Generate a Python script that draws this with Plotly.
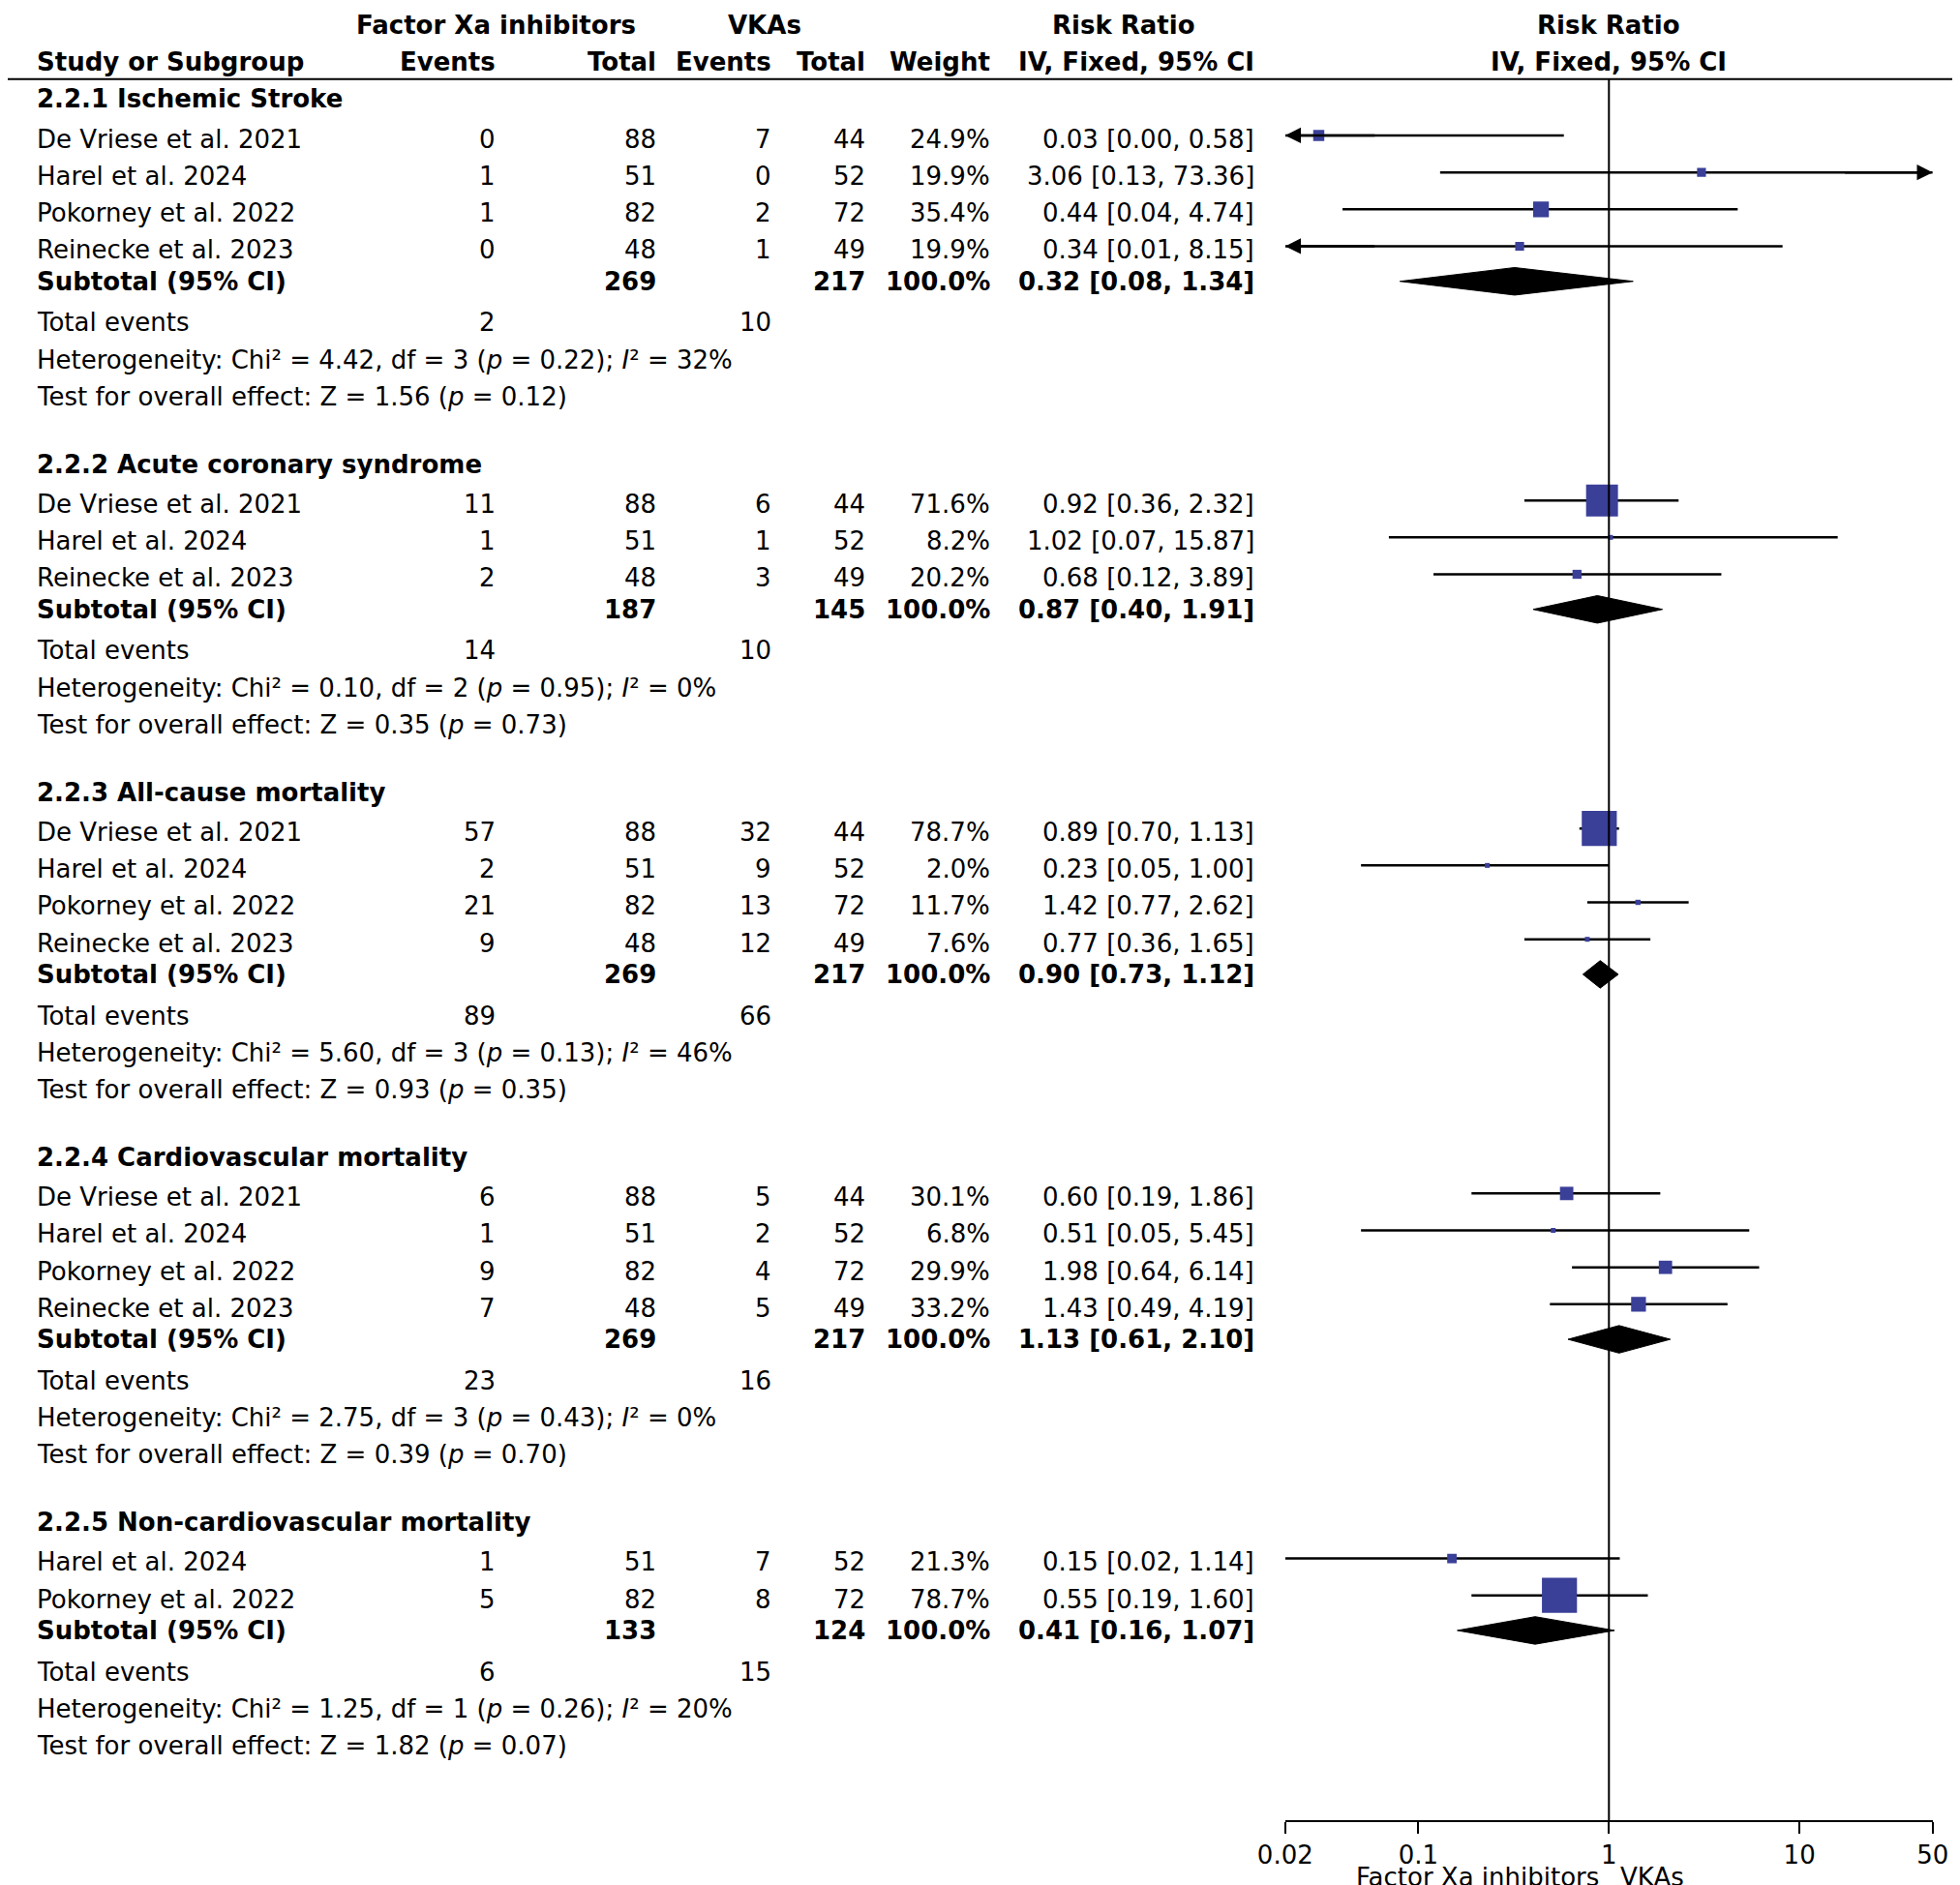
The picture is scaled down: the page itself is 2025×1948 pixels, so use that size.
import math
import plotly.graph_objects as go

# ---------------- data ----------------
sec_titles = ["2.2.1 Ischemic Stroke", "2.2.2 Acute coronary syndrome", "2.2.3 All-cause mortality",
              "2.2.4 Cardiovascular mortality", "2.2.5 Non-cardiovascular mortality"]
studies = [
    [("De Vriese et al. 2021", 0, 88, 7, 44, 24.9, 0.03, 0.00, 0.58),
     ("Harel et al. 2024", 1, 51, 0, 52, 19.9, 3.06, 0.13, 73.36),
     ("Pokorney et al. 2022", 1, 82, 2, 72, 35.4, 0.44, 0.04, 4.74),
     ("Reinecke et al. 2023", 0, 48, 1, 49, 19.9, 0.34, 0.01, 8.15)],
    [("De Vriese et al. 2021", 11, 88, 6, 44, 71.6, 0.92, 0.36, 2.32),
     ("Harel et al. 2024", 1, 51, 1, 52, 8.2, 1.02, 0.07, 15.87),
     ("Reinecke et al. 2023", 2, 48, 3, 49, 20.2, 0.68, 0.12, 3.89)],
    [("De Vriese et al. 2021", 57, 88, 32, 44, 78.7, 0.89, 0.70, 1.13),
     ("Harel et al. 2024", 2, 51, 9, 52, 2.0, 0.23, 0.05, 1.00),
     ("Pokorney et al. 2022", 21, 82, 13, 72, 11.7, 1.42, 0.77, 2.62),
     ("Reinecke et al. 2023", 9, 48, 12, 49, 7.6, 0.77, 0.36, 1.65)],
    [("De Vriese et al. 2021", 6, 88, 5, 44, 30.1, 0.60, 0.19, 1.86),
     ("Harel et al. 2024", 1, 51, 2, 52, 6.8, 0.51, 0.05, 5.45),
     ("Pokorney et al. 2022", 9, 82, 4, 72, 29.9, 1.98, 0.64, 6.14),
     ("Reinecke et al. 2023", 7, 48, 5, 49, 33.2, 1.43, 0.49, 4.19)],
    [("Harel et al. 2024", 1, 51, 7, 52, 21.3, 0.15, 0.02, 1.14),
     ("Pokorney et al. 2022", 5, 82, 8, 72, 78.7, 0.55, 0.19, 1.60)],
]
subtotals = [(269, 217, 0.32, 0.08, 1.34), (187, 145, 0.87, 0.40, 1.91), (269, 217, 0.90, 0.73, 1.12),
             (269, 217, 1.13, 0.61, 2.10), (133, 124, 0.41, 0.16, 1.07)]
total_events = [(2, 10), (14, 10), (89, 66), (23, 16), (6, 15)]
het = [("4.42", "3", "0.22", "32%"), ("0.10", "2", "0.95", "0%"), ("5.60", "3", "0.13", "46%"),
       ("2.75", "3", "0.43", "0%"), ("1.25", "1", "0.26", "20%")]
tests = [("1.56", "0.12"), ("0.35", "0.73"), ("0.93", "0.35"), ("0.39", "0.70"), ("1.82", "0.07")]
tick_vals = [0.02, 0.1, 1, 10, 50]
tick_text = ["0.02", "0.1", "1", "10", "50"]
XMIN, XMAX = 0.02, 50

# ---------------- layout helpers ----------------
W, H = 2025, 1948
DW = 1565.0
DH = H * DW / W
FS = 26
FONT = "DejaVu Sans"
BLUE = "#3A3F98"

fig = go.Figure()
ann = []

def txt(x, y, s, anchor="left", bold=False):
    if bold:
        s = "<b>" + s + "</b>"
    ann.append(dict(x=x / DW, y=y, xref="paper", yref="y", text=s, showarrow=False,
                    xanchor=anchor, yanchor="middle", font=dict(size=FS, color="black", family=FONT)))

cols = [391, 519, 611, 686, 786, 997]

# headers
txt(390, 14, "Factor Xa inhibitors", "center", True)
txt(604, 14, "VKAs", "center", True)
txt(891, 14, "Risk Ratio", "center", True)
txt(1278, 14, "Risk Ratio", "center", True)
txt(22, 43, "Study or Subgroup", "left", True)
txt(391, 43, "Events", "right", True)
txt(519, 43, "Total", "right", True)
txt(611, 43, "Events", "right", True)
txt(686, 43, "Total", "right", True)
txt(786, 43, "Weight", "right", True)
txt(997, 43, "IV, Fixed, 95% CI", "right", True)
txt(1278, 43, "IV, Fixed, 95% CI", "center", True)

shapes = [dict(type="line", xref="paper", yref="y", x0=0, x1=1, y0=57, y1=57, line=dict(color="black", width=2)),
          dict(type="line", xref="x", yref="y", x0=1, x1=1, y0=57, y1=1448, line=dict(color="black", width=2))]

y = 73
for k in range(5):
    txt(22, y, sec_titles[k], "left", True)
    y += 32
    for j, (nm, e1, n1, e2, n2, w, rr, lo, hi) in enumerate(studies[k]):
        if j > 0:
            y += 29.5
        txt(22, y, nm)
        for c, v in zip(cols, [e1, n1, e2, n2, f"{w:.1f}%", f"{rr:.2f} [{lo:.2f}, {hi:.2f}]"]):
            txt(c, y, str(v), "right")
        l0 = max(lo, XMIN) if lo > 0 else XMIN
        h0 = min(hi, XMAX)
        fig.add_trace(go.Scatter(x=[l0, h0], y=[y - 3, y - 3], mode="lines", line=dict(color="black", width=2.5),
                                 showlegend=False, hoverinfo="skip"))
        fig.add_trace(go.Scatter(x=[rr], y=[y - 3], mode="markers",
                                 marker=dict(symbol="square", color=BLUE, size=max(5, 0.46 * w), line=dict(width=0)),
                                 showlegend=False, hoverinfo="skip"))
        if lo < XMIN:
            ann.append(dict(x=math.log10(XMIN), y=y - 3, ax=math.log10(0.06), ay=y - 3, axref="x", ayref="y",
                            xref="x", yref="y", text="", showarrow=True, arrowhead=2, arrowsize=1.3,
                            arrowwidth=2.5, arrowcolor="black"))
        if hi > XMAX:
            ann.append(dict(x=math.log10(XMAX), y=y - 3, ax=math.log10(17), ay=y - 3, axref="x", ayref="y",
                            xref="x", yref="y", text="", showarrow=True, arrowhead=2, arrowsize=1.3,
                            arrowwidth=2.5, arrowcolor="black"))
    y += 25
    n1t, n2t, rr, lo, hi = subtotals[k]
    txt(22, y, "Subtotal (95% CI)", "left", True)
    txt(519, y, str(n1t), "right", True)
    txt(686, y, str(n2t), "right", True)
    txt(786, y, "100.0%", "right", True)
    txt(997, y, f"{rr:.2f} [{lo:.2f}, {hi:.2f}]", "right", True)
    fig.add_trace(go.Scatter(x=[lo, rr, hi, rr, lo], y=[y, y - 11, y, y + 11, y], mode="lines", fill="toself",
                             fillcolor="black", line=dict(color="black", width=1), showlegend=False, hoverinfo="skip"))
    y += 33
    txt(22, y, "Total events")
    txt(391, y, str(total_events[k][0]), "right")
    txt(611, y, str(total_events[k][1]), "right")
    y += 29.5
    c, d, p, i2 = het[k]
    txt(22, y, f"Heterogeneity: Chi² = {c}, df = {d} (<i>p</i> = {p}); <i>I</i>² = {i2}")
    y += 29.5
    z, p = tests[k]
    txt(22, y, f"Test for overall effect: Z = {z} (<i>p</i> = {p})")
    y += 54

txt(1272, 1493, "Factor Xa inhibitors", "right")
txt(1286, 1493, "VKAs", "left")

fig.update_layout(
    width=W, height=H, margin=dict(l=0, r=0, t=0, b=0, autoexpand=False), paper_bgcolor="white",
    plot_bgcolor="white", annotations=ann, shapes=shapes,
    xaxis=dict(type="log", range=[math.log10(XMIN), math.log10(XMAX)], domain=[1020 / DW, 1537 / DW],
               anchor="free", position=1 - 1448 / DH, showgrid=False, zeroline=False, automargin=False,
               showline=True, linecolor="black", linewidth=2, ticks="outside", ticklen=12, tickwidth=2,
               tickcolor="black", tickvals=tick_vals, ticktext=tick_text,
               tickfont=dict(size=FS, color="black", family=FONT)),
    yaxis=dict(range=[DH, 0], domain=[0, 1], visible=False, showgrid=False, zeroline=False, automargin=False),
)
fig.write_html("out.html")
